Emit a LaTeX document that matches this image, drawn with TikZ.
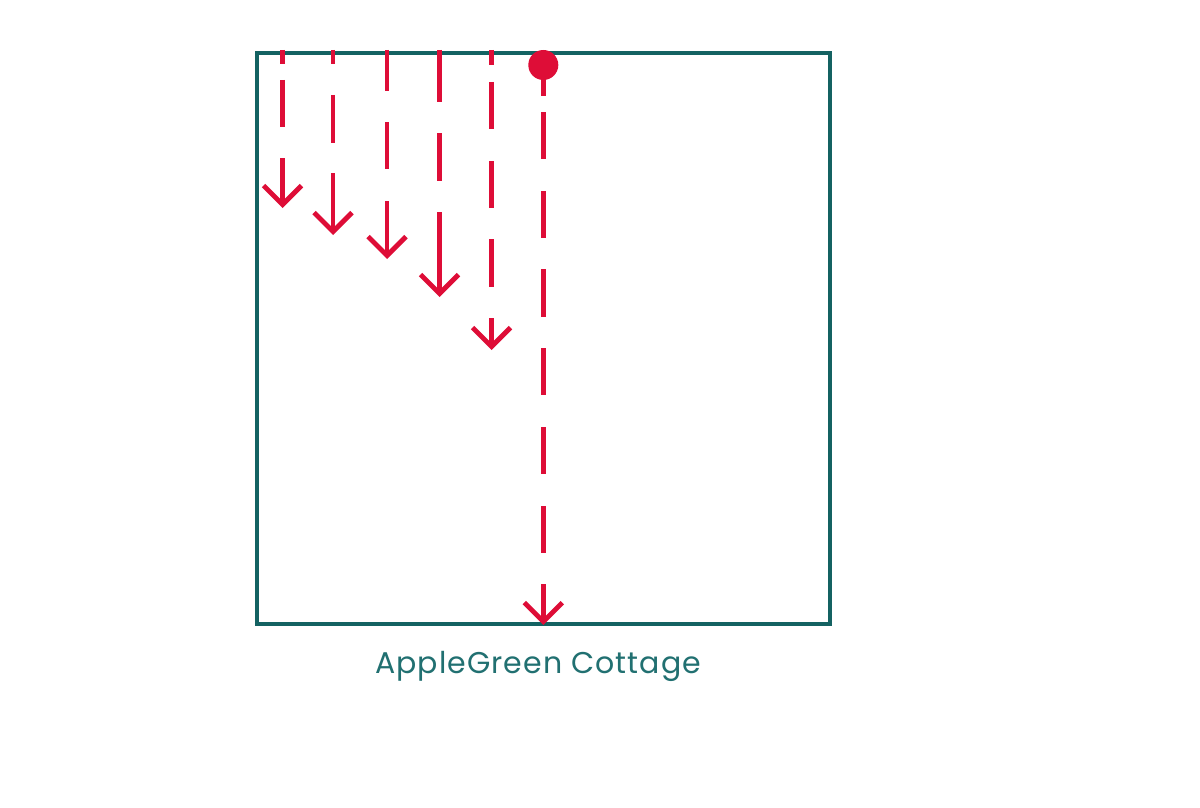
\documentclass[tikz,border=0pt]{standalone}
\usepackage{fontspec}
\newfontfamily\labelfont[LetterSpace=3.5]{Poppins}
\usetikzlibrary{arrows.meta}
\definecolor{houseteal}{RGB}{20,98,98}
\definecolor{labelteal}{RGB}{33,112,113}
\definecolor{flowred}{RGB}{222,13,55}
\tikzset{
  flow/.style={draw=flowred, line width=4.8pt,
    -{Straight Barb[length=19pt,width=38pt,sharp]}},
  housebox/.style={draw=houseteal, line width=4.5pt, minimum width=573pt,
    minimum height=571pt, inner sep=0pt, outer sep=0pt},
}
\begin{document}
\begin{tikzpicture}[x=1pt,y=-1pt]
\useasboundingbox (0,0) rectangle (1200,808);
\fill[white] (0,0) rectangle (1200,808);
\node[housebox] (house) at (543.5,338.5) {};
% start and end coordinates
\coordinate (s1) at (282.5,50); \coordinate (e1) at (282.5,208);
\coordinate (s2) at (333,50);   \coordinate (e2) at (333,235);
\coordinate (s3) at (387,50);   \coordinate (e3) at (387,259);
\coordinate (s4) at (439.5,50); \coordinate (e4) at (439.5,297);
\coordinate (s5) at (491.5,50); \coordinate (e5) at (491.5,350);
\coordinate (s6) at (543.3,65); \coordinate (e6) at (543.3,625);
\draw[flow, dash pattern=on 14pt off 16pt on 47pt off 31pt on 500pt] (s1) -- (e1);
\draw[flow, dash pattern=on 14pt off 31pt on 48pt off 30pt on 500pt] (s2) -- (e2);
\draw[flow, dash pattern=on 41pt off 31pt on 47pt off 32pt on 500pt] (s3) -- (e3);
\draw[flow, dash pattern=on 52pt off 31pt on 48pt off 31pt on 500pt] (s4) -- (e4);
\draw[flow, dash pattern=on 15pt off 17pt on 47pt off 32pt on 47pt off 31pt on 48pt off 31pt on 500pt] (s5) -- (e5);
\draw[flow, dash pattern=on 31pt off 16pt on 47pt off 32pt on 47pt off 31pt on 48pt off 31pt on 47pt off 32pt on 47pt off 32pt on 47pt off 31pt on 500pt] (s6) -- (e6);
\node[circle, fill=flowred, minimum size=30pt, inner sep=0pt] (dot) at (s6) {};
\node[anchor=base, text=labelteal, font=\labelfont\fontsize{30}{35}\selectfont, inner sep=0pt] (label) at (538,673) {AppleGreen Cottage};
\end{tikzpicture}
\end{document}
